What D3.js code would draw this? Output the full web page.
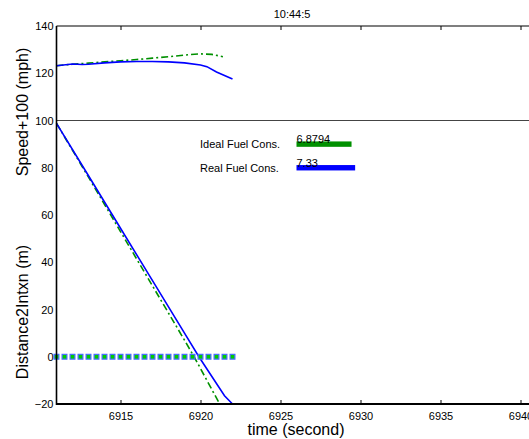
<!DOCTYPE html>
<html><head><meta charset="utf-8">
<script src="https://cdn.jsdelivr.net/npm/d3@7/dist/d3.min.js"></script>
<style>body{margin:0;background:#fff}svg{display:block;font-family:"Liberation Sans",Arial,sans-serif}</style>
</head><body><svg id="c" width="529" height="439"></svg>
<script>
const xTicks = [6915, 6920, 6925, 6930, 6935, 6940];
const yTicks = [140, 120, 100, 80, 60, 40, 20, 0, -20];
const speedIdealT = [6911, 6912, 6913, 6914, 6915, 6916, 6917, 6918, 6919, 6920, 6920.7, 6921.4];
const speedIdealV = [123.2, 123.8, 124.3, 124.8, 125.3, 125.8, 126.4, 127.0, 127.7, 128.2, 128.0, 127.0];
const speedRealT = [6911, 6912, 6912.6, 6913, 6914, 6915, 6916, 6917, 6918, 6919, 6920, 6920.4, 6921, 6922];
const speedRealV = [123.2, 123.9, 123.7, 123.8, 124.4, 124.8, 125.0, 125.0, 124.8, 124.4, 123.5, 122.8, 120.5, 117.6];
const distIdealT = [6911, 6913, 6915, 6917, 6919, 6919.6, 6920.4, 6921.2];
const distIdealV = [98.8, 76.0, 53.0, 30.0, 7.0, 0, -10.0, -20];
const distRealT = [6911, 6913, 6915, 6917, 6919, 6919.9, 6921.5, 6922];
const distRealV = [98.8, 76.6, 54.4, 32.2, 10.0, 0, -16.5, -20];
const markerT = [6911, 6911.5, 6912, 6912.5, 6913, 6913.5, 6914, 6914.5, 6915, 6915.5, 6916, 6916.5, 6917, 6917.5, 6918, 6918.5, 6919, 6919.5, 6920, 6920.5, 6921, 6921.5, 6922];
const markerV = markerT.map(() => 0);
const fuelLabels = ["Ideal Fuel Cons.", "Real Fuel Cons."];
const fuelValues = [6.8794, 7.33];
const fuelValueText = ["6.8794", "7.33"];
const fuelY = [90, 80];
const fuelColors = ["#009000", "#0000ff"];
const title = "10:44:5";

const svg = d3.select("#c");
const L = 56.5, T = 26, B = 404;
const x = d3.scaleLinear().domain([6911, 6941]).range([L, L + 30 * 16]);
const y = d3.scaleLinear().domain([-20, 140]).range([B, T]);
const W = 529;

svg.append("line").attr("x1", L).attr("x2", W).attr("y1", y(100)).attr("y2", y(100))
  .attr("stroke", "#444").attr("stroke-width", 1.2);

const line = d3.line().x(d => x(d[0])).y(d => y(d[1]));
const zip = (a, b) => a.map((t, i) => [t, b[i]]);

const g = svg.append("g");
g.append("path").datum(zip(speedIdealT, speedIdealV)).attr("d", line)
  .attr("fill", "none").attr("stroke", "#009000").attr("stroke-width", 1.6).attr("stroke-dasharray", "7,3,2,3");
g.append("path").datum(zip(speedRealT, speedRealV)).attr("d", line)
  .attr("fill", "none").attr("stroke", "#0000ff").attr("stroke-width", 1.6);
g.append("path").datum(zip(distIdealT, distIdealV)).attr("d", line)
  .attr("fill", "none").attr("stroke", "#009000").attr("stroke-width", 1.6).attr("stroke-dasharray", "7,3,2,3");
g.append("path").datum(zip(distRealT, distRealV)).attr("d", line)
  .attr("fill", "none").attr("stroke", "#0000ff").attr("stroke-width", 1.6);

g.selectAll("rect.m").data(zip(markerT, markerV)).join("rect").attr("class", "m")
  .attr("x", d => x(d[0]) - 2.4).attr("y", d => y(d[1]) - 2.4).attr("width", 4.8).attr("height", 4.8)
  .attr("fill", "#00cc00").attr("stroke", "#4a6cff").attr("stroke-width", 1.2);

fuelLabels.forEach((lab, i) => {
  svg.append("text").attr("x", 200).attr("y", y(fuelY[i]) + 4).attr("font-size", 11).attr("fill", "#000").text(lab);
  svg.append("rect").attr("x", x(6926)).attr("y", y(fuelY[i]) - 2.7)
    .attr("width", x(6926 + fuelValues[i] / 2) - x(6926)).attr("height", 5.4).attr("fill", fuelColors[i]);
  svg.append("text").attr("x", x(6926)).attr("y", y(fuelY[i]) - 1).attr("font-size", 11).attr("fill", "#000").text(fuelValueText[i]);
});

svg.append("line").attr("x1", L).attr("x2", W).attr("y1", T).attr("y2", T).attr("stroke", "#000").attr("stroke-width", 1.2);
svg.append("line").attr("x1", L).attr("x2", W).attr("y1", B).attr("y2", B).attr("stroke", "#000").attr("stroke-width", 2);
svg.append("line").attr("x1", L).attr("x2", L).attr("y1", T).attr("y2", B + 1).attr("stroke", "#000").attr("stroke-width", 1.6);

const xb = svg.append("g").attr("transform", `translate(0,${B})`)
  .call(d3.axisBottom(x).tickValues(xTicks).tickSizeInner(-4).tickSizeOuter(0).tickPadding(8).tickFormat(d3.format("d")));
xb.select(".domain").remove();
xb.selectAll("text").attr("font-size", 11).attr("font-family", "Liberation Sans, Arial, sans-serif");
const xt = svg.append("g").attr("transform", `translate(0,${T})`)
  .call(d3.axisTop(x).tickValues(xTicks).tickSizeInner(-4).tickSizeOuter(0).tickFormat(""));
xt.select(".domain").remove();

const yl = svg.append("g").attr("transform", `translate(${L},0)`)
  .call(d3.axisLeft(y).tickValues(yTicks).tickSize(0).tickPadding(3).tickFormat(d => d < 0 ? "\u2212" + Math.abs(d) : d));
yl.select(".domain").remove();
yl.selectAll("text").attr("font-size", 11).attr("font-family", "Liberation Sans, Arial, sans-serif");

svg.append("text").attr("x", 292).attr("y", 18).attr("text-anchor", "middle").attr("font-size", 11).text(title);
svg.append("text").attr("x", 296).attr("y", 435).attr("text-anchor", "middle").attr("font-size", 16).text("time (second)");
svg.append("text").attr("transform", "translate(28,112) rotate(-90)").attr("text-anchor", "middle").attr("font-size", 16).text("Speed+100 (mph)");
svg.append("text").attr("transform", "translate(28,312) rotate(-90)").attr("text-anchor", "middle").attr("font-size", 16).text("Distance2Intxn (m)");
</script></body></html>
